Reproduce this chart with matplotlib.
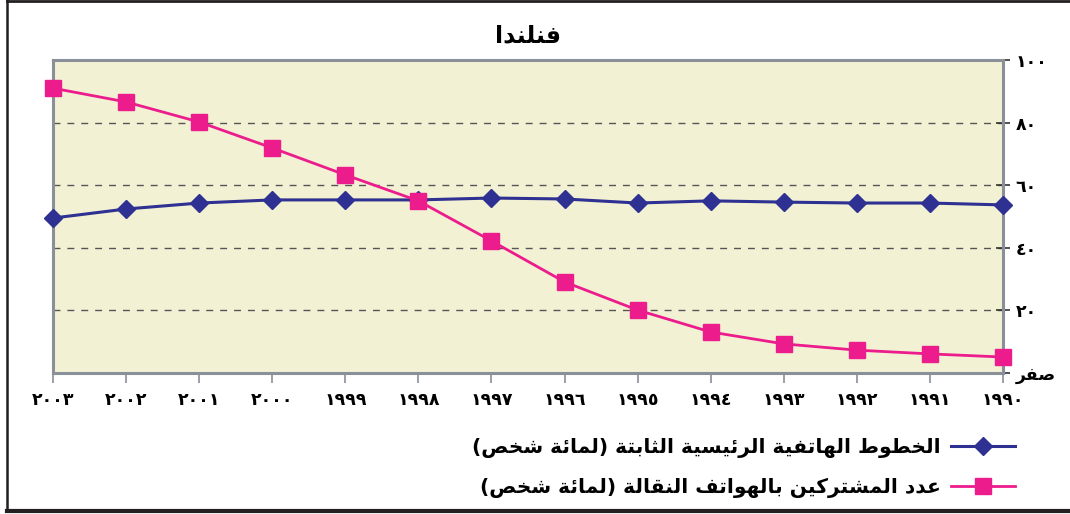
import matplotlib
matplotlib.use("Agg")
import matplotlib.pyplot as plt
from matplotlib.lines import Line2D

# ---------------- data ----------------
title_text = "فنلندا"
years = [2003, 2002, 2001, 2000, 1999, 1998, 1997, 1996, 1995, 1994, 1993, 1992, 1991, 1990]
fixed_lines = [49.5, 52.4, 54.3, 55.3, 55.3, 55.3, 55.9, 55.6, 54.3, 55.0, 54.6, 54.3, 54.3, 53.7]
mobile_subs = [91.0, 86.6, 80.2, 71.9, 63.3, 55.0, 42.2, 29.1, 20.1, 13.1, 9.3, 7.3, 6.1, 5.1]
series_names = ["الخطوط الهاتفية الرئيسية الثابتة (لمائة شخص)",
                "عدد المشتركين بالهواتف النقالة (لمائة شخص)"]
y_ticks = [0, 20, 40, 60, 80, 100]
y_tick_labels = ["صفر", "٢٠", "٤٠", "٦٠", "٨٠", "١٠٠"]

# ---------------- minimal Arabic shaping ----------------
DUAL = {'\u0626': 0xFE89, '\u0628': 0xFE8F, '\u062A': 0xFE95, '\u062B': 0xFE99, '\u062C': 0xFE9D,
        '\u062D': 0xFEA1, '\u062E': 0xFEA5, '\u0633': 0xFEB1, '\u0634': 0xFEB5, '\u0635': 0xFEB9,
        '\u0636': 0xFEBD, '\u0637': 0xFEC1, '\u0638': 0xFEC5, '\u0639': 0xFEC9, '\u063A': 0xFECD,
        '\u0641': 0xFED1, '\u0642': 0xFED5, '\u0643': 0xFED9, '\u0644': 0xFEDD, '\u0645': 0xFEE1,
        '\u0646': 0xFEE5, '\u0647': 0xFEE9, '\u064A': 0xFEF1}
RIGHT = {'\u0622': 0xFE81, '\u0623': 0xFE83, '\u0624': 0xFE85, '\u0625': 0xFE87, '\u0627': 0xFE8D,
         '\u0629': 0xFE93, '\u062F': 0xFEA9, '\u0630': 0xFEAB, '\u0631': 0xFEAD, '\u0632': 0xFEAF,
         '\u0648': 0xFEED, '\u0649': 0xFEEF}
LAMALEF = {'\u0622': 0xFEF5, '\u0623': 0xFEF7, '\u0625': 0xFEF9, '\u0627': 0xFEFB}


def shape(text):
    out = []
    i = 0
    n = len(text)
    while i < n:
        c = text[i]
        prev = text[i - 1] if i > 0 else ''
        joins_prev = prev in DUAL
        if c == '\u0644' and i + 1 < n and text[i + 1] in LAMALEF:
            base = LAMALEF[text[i + 1]]
            out.append(chr(base + (1 if joins_prev else 0)))
            i += 2
            continue
        if c in DUAL:
            nxt = text[i + 1] if i + 1 < n else ''
            joins_next = nxt in DUAL or nxt in RIGHT
            base = DUAL[c]
            if joins_prev and joins_next:
                out.append(chr(base + 3))
            elif joins_prev:
                out.append(chr(base + 1))
            elif joins_next:
                out.append(chr(base + 2))
            else:
                out.append(chr(base))
        elif c in RIGHT:
            out.append(chr(RIGHT[c] + (1 if joins_prev else 0)))
        else:
            out.append(c)
        i += 1
    # Arabic letters are reversed to visual order; digit runs stay left-to-right
    if not any(ch in DUAL or ch in RIGHT for ch in text):
        return text
    mirror = {'(': ')', ')': '('}
    return ''.join(mirror.get(ch, ch) for ch in reversed(out))


def to_arabic_digits(v):
    return str(v).translate(str.maketrans("0123456789", "٠١٢٣٤٥٦٧٨٩"))


# ---------------- figure ----------------
plt.rcParams['font.family'] = ['DejaVu Sans']
fig = plt.figure(figsize=(10.70, 5.14), dpi=100)
ax = fig.add_axes([53 / 1070, 141 / 514, 950 / 1070, 313 / 514])

BG = '#f3f1d4'
BLUE = '#2e3192'
PINK = '#ec1c8c'
SPINE = '#8a9097'

ax.set_facecolor(BG)
x = list(range(len(years)))
ax.plot(x, fixed_lines, color=BLUE, lw=2.2, marker='D', ms=9.5, mfc=BLUE, mec=BLUE,
        clip_on=False, zorder=4, label=shape(series_names[0]))
ax.plot(x, mobile_subs, color=PINK, lw=2.0, marker='s', ms=11, mfc=PINK, mec=PINK,
        clip_on=False, zorder=5, label=shape(series_names[1]))

ax.set_xlim(0, len(years) - 1)
ax.set_ylim(0, 100)

ax.set_xticks(x)
ax.set_xticklabels([to_arabic_digits(y) for y in years], fontsize=12.5, fontweight='bold')
ax.yaxis.tick_right()
ax.set_yticks(y_ticks)
ax.set_yticklabels([shape(t) for t in y_tick_labels], fontsize=12.5, fontweight='bold')
ax.tick_params(axis='x', direction='out', length=7, width=1.2, color=SPINE, pad=6)
ax.tick_params(axis='y', direction='inout', length=10, width=1.2, color='#333333', pad=4)

ax.yaxis.grid(True, linestyle=(0, (5, 5)), color='#555555', lw=1.0)
ax.set_axisbelow(True)
for side in ['left', 'right', 'top', 'bottom']:
    ax.spines[side].set_color(SPINE)
    ax.spines[side].set_linewidth(2.2)

fig.text(528 / 1070, 1 - 35 / 514, shape(title_text), ha='center', va='center',
         fontsize=17, fontweight='bold')

leg = fig.legend(loc='upper right', bbox_to_anchor=(1021 / 1070, 1 - 432 / 514),
                 markerfirst=False, frameon=False, handlelength=3.2, handletextpad=0.5,
                 labelspacing=1.0, borderaxespad=0.0, borderpad=0.3,
                 prop={'weight': 'bold', 'size': 14.5})

# outer frame
fig.add_artist(Line2D([7 / 1070, 7 / 1070], [0.006, 1.0], color='#231f20', lw=1.8,
                      transform=fig.transFigure))
fig.add_artist(Line2D([7 / 1070, 1.0], [0.999, 0.999], color='#231f20', lw=2.0,
                      transform=fig.transFigure))
fig.add_artist(Line2D([7 / 1070, 1.0], [0.006, 0.006], color='#231f20', lw=3.0,
                      transform=fig.transFigure))

fig.savefig('out.png', dpi=100, facecolor='white')
